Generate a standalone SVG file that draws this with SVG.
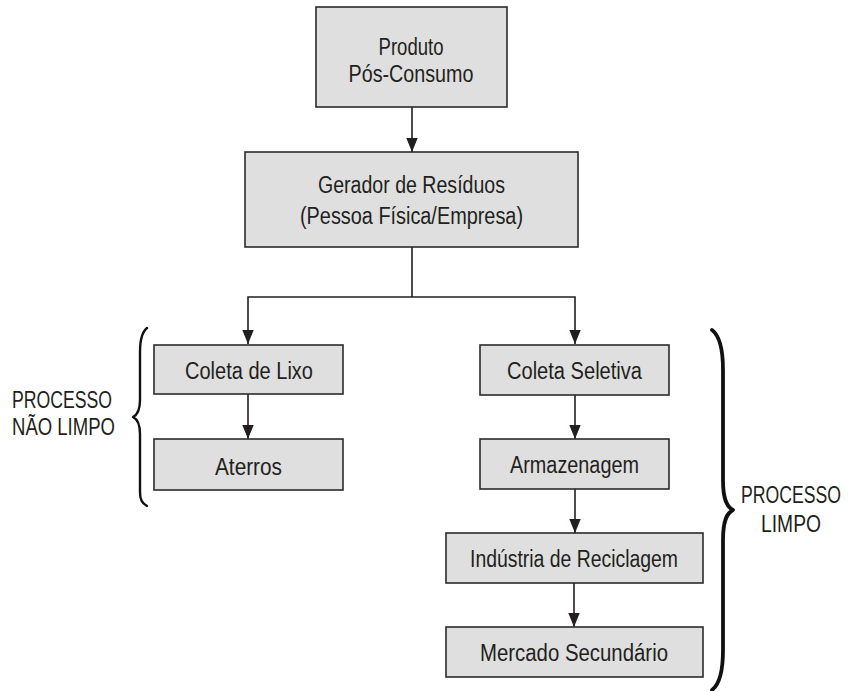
<svg xmlns="http://www.w3.org/2000/svg" width="849" height="691" viewBox="0 0 849 691">
<style>
.box{fill:#dfdfdf;stroke:#2b2b2b;stroke-width:1.6}
.t{font-family:"Liberation Sans Narrow","Liberation Sans",Arial,sans-serif;font-size:23.5px;fill:#231f20;text-anchor:middle}
.c{fill:none;stroke:#231f20;stroke-width:1.6}
.br{fill:none;stroke:#111;stroke-linecap:round;stroke-linejoin:round}
</style>
<defs>
<marker id="ah" markerUnits="userSpaceOnUse" markerWidth="14" markerHeight="18" refX="16" refY="6.5" orient="auto" viewBox="0 0 16 13">
<polygon points="0,0 16,6.5 0,13" fill="#231f20"/>
</marker>
</defs>
<rect width="849" height="691" fill="#ffffff"/>
<g id="connectors">
<line class="c" x1="412" y1="107" x2="412" y2="152" marker-end="url(#ah)"/>
<line class="c" x1="412" y1="247" x2="412" y2="297"/>
<path class="c" d="M412,297 H248 V344" marker-end="url(#ah)"/>
<path class="c" d="M412,297 H575 V344" marker-end="url(#ah)"/>
<line class="c" x1="248" y1="394" x2="248" y2="439" marker-end="url(#ah)"/>
<line class="c" x1="575" y1="395" x2="575" y2="439" marker-end="url(#ah)"/>
<line class="c" x1="575" y1="489" x2="575" y2="533" marker-end="url(#ah)"/>
<line class="c" x1="574" y1="583" x2="574" y2="627" marker-end="url(#ah)"/>
</g>
<g id="produto">
<rect class="box" x="316" y="7" width="191" height="100"/>
<text class="t" x="411" y="55" textLength="65" lengthAdjust="spacingAndGlyphs">Produto</text>
<text class="t" x="411" y="82" textLength="125" lengthAdjust="spacingAndGlyphs">Pós-Consumo</text>
</g>
<g id="gerador">
<rect class="box" x="245" y="152" width="333" height="95"/>
<text class="t" x="411.5" y="193" textLength="187" lengthAdjust="spacingAndGlyphs">Gerador de Resíduos</text>
<text class="t" x="411.5" y="224" textLength="223" lengthAdjust="spacingAndGlyphs">(Pessoa Física/Empresa)</text>
</g>
<g id="coleta-lixo">
<rect class="box" x="154" y="345" width="189" height="49"/>
<text class="t" x="249" y="379" textLength="128" lengthAdjust="spacingAndGlyphs">Coleta de Lixo</text>
</g>
<g id="aterros">
<rect class="box" x="154" y="439" width="189" height="51"/>
<text class="t" x="248.5" y="475" textLength="67" lengthAdjust="spacingAndGlyphs">Aterros</text>
</g>
<g id="coleta-seletiva">
<rect class="box" x="480" y="345" width="189" height="50"/>
<text class="t" x="574.5" y="379" textLength="135" lengthAdjust="spacingAndGlyphs">Coleta Seletiva</text>
</g>
<g id="armazenagem">
<rect class="box" x="480" y="439" width="189" height="50"/>
<text class="t" x="574.5" y="473" textLength="129" lengthAdjust="spacingAndGlyphs">Armazenagem</text>
</g>
<g id="industria">
<rect class="box" x="446" y="533" width="257" height="50"/>
<text class="t" x="574" y="567" textLength="208" lengthAdjust="spacingAndGlyphs">Indústria de Reciclagem</text>
</g>
<g id="mercado">
<rect class="box" x="446" y="627" width="257" height="50"/>
<text class="t" x="574" y="661" textLength="188" lengthAdjust="spacingAndGlyphs">Mercado Secundário</text>
</g>
<g id="processo-nao-limpo">
<path class="br" stroke-width="2.4" d="M147,328 C142,332 140,340 140,352 L140,400 C140,410 137,415 133,417 C137,419 140,424 140,434 L140,492 C140,500 142,503 147,506"/>
<text class="t" x="62" y="408" textLength="100" lengthAdjust="spacingAndGlyphs">PROCESSO</text>
<text class="t" x="63.5" y="435" textLength="103" lengthAdjust="spacingAndGlyphs">NÃO LIMPO</text>
</g>
<g id="processo-limpo">
<path class="br" stroke-width="3.8" d="M712,330 C720,336 723,350 723,370 L723,480 C723,500 727,507 733,510 C727,513 723,520 723,540 L723,650 C723,670 720,684 712,690"/>
<text class="t" x="791" y="503" textLength="100" lengthAdjust="spacingAndGlyphs">PROCESSO</text>
<text class="t" x="791" y="532" textLength="60" lengthAdjust="spacingAndGlyphs">LIMPO</text>
</g>
</svg>
